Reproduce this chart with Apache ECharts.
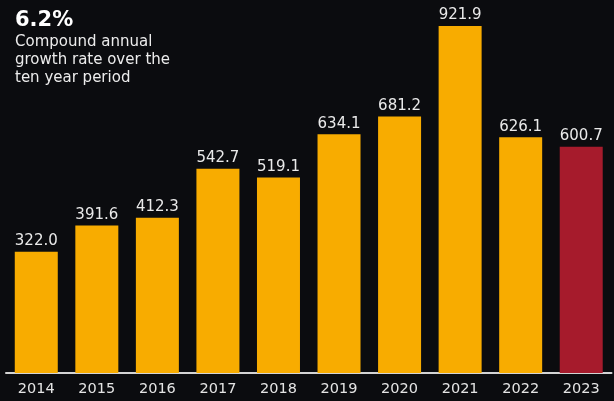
<!DOCTYPE html>
<html><head><meta charset="utf-8">
<script src="https://cdn.jsdelivr.net/npm/echarts@6/dist/echarts.min.js"></script>
<style>html,body{margin:0;padding:0;background:#0b0c0f;}#c{width:614px;height:401px;}</style>
</head><body><div id="c"></div>
<script>
const years = ['2014','2015','2016','2017','2018','2019','2020','2021','2022','2023'];
const values = [322.0, 391.6, 412.3, 542.7, 519.1, 634.1, 681.2, 921.9, 626.1, 600.7];
const highlightYear = '2023';
const headline = '6.2%';
const subtitle = 'Compound annual\ngrowth rate over the\nten year period';

const FONT = '"DejaVu Sans"';
const chart = echarts.init(document.getElementById('c'), null, {renderer:'canvas'});
chart.setOption({
  backgroundColor: '#0b0c0f',
  animation: false,
  title: {
    text: headline,
    subtext: subtitle,
    left: 10, top: 5,
    itemGap: 2,
    textStyle: {color:'#ffffff', fontFamily:FONT, fontWeight:'bold', fontSize:21},
    subtextStyle: {color:'#ececec', fontFamily:FONT, fontSize:15, lineHeight:18}
  },
  grid: {left: 6, right: 2.5, top: 4, bottom: 28},
  xAxis: {
    type: 'category', data: years,
    axisLine: {show:true, lineStyle:{color:'#d4d4d4', width:2}},
    axisTick: {show:false},
    axisLabel: {color:'#e4e4e4', fontFamily:FONT, fontSize:14.5, margin:9}
  },
  yAxis: {type:'value', min:0, max:980, show:false, splitLine:{show:false}},
  series: [{
    type: 'bar',
    barWidth: 43,
    data: values.map((v,i)=>({value:v, itemStyle:{color: years[i]===highlightYear ? '#a61b2c' : '#f8ac00'}})),
    label: {show:true, position:'top', distance:3, color:'#eaeaea', fontFamily:FONT, fontSize:15,
      formatter: p => p.value.toFixed(1)}
  }]
});
</script></body></html>
